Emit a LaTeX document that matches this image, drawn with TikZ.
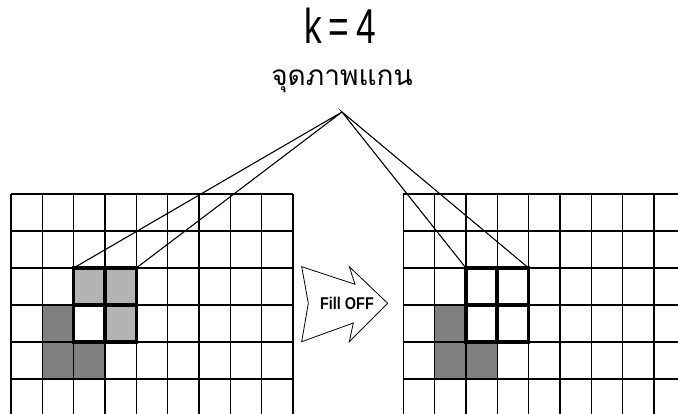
\documentclass[tikz,border=0pt]{standalone}
\usepackage{fontspec}
\usepackage{tikz}
\usetikzlibrary{positioning}
\newfontfamily\titlefont[FakeStretch=0.72, LetterSpace=14]{Liberation Sans}
\newfontfamily\thaifont[Script=Thai]{Loma}
\newfontfamily\tagfont[FakeStretch=0.85]{Liberation Sans}
\definecolor{pxInk}{HTML}{000000}
\definecolor{pxLight}{HTML}{B3B3B3}
\definecolor{pxDark}{HTML}{808080}
\tikzset{
  thin line/.style={draw=pxInk, line width=1.4pt},
  core/.style={draw=pxInk, line width=3.6pt, line cap=rect},
  ray/.style={draw=pxInk, line width=1.1pt},
  cellL/.style={fill=pxLight},
  cellD/.style={fill=pxDark},
}

\begin{document}
\begin{tikzpicture}[x=1pt, y=1pt]
  \clip (0,0) rectangle (678,414);
  \fill[white] (0,0) rectangle (678,414);
  % left grid
  \begin{scope}[shift={(11,220)}, x=31.33pt, y=37pt]
    \fill[cellL] (2,-3) rectangle (4,-2);
    \fill[cellL] (3,-4) rectangle (4,-3);
    \fill[cellD] (1,-5) rectangle (2,-3);
    \fill[cellD] (2,-5) rectangle (3,-4);
    \draw[thin line, step=1] (0,-6) grid (9,0);
    \draw[core] (2,-4) rectangle (4,-2) (3,-4) -- (3,-2) (2,-3) -- (4,-3);
    \coordinate (lA) at (2,-2);
    \coordinate (lB) at (4,-2);
  \end{scope}
  % right grid
  \begin{scope}[shift={(403.3,220)}, x=31.33pt, y=37pt]
    \fill[cellD] (1,-5) rectangle (2,-3);
    \fill[cellD] (2,-5) rectangle (3,-4);
    \draw[thin line, step=1] (0,-6) grid (9,0);
    \draw[core] (2,-4) rectangle (4,-2) (3,-4) -- (3,-2) (2,-3) -- (4,-3);
    \coordinate (rA) at (2,-2);
    \coordinate (rB) at (4,-2);
  \end{scope}
  \node (title) at (340,388.5) {\titlefont\fontsize{49}{55}\selectfont k=4};
  \node (core) at (342,333) {\thaifont\fontsize{28}{33}\selectfont จุดภาพแกน};
  \coordinate (apex) at (342,302);
  \draw[ray] (lA) -- (apex) -- (lB);
  \draw[ray] (rA) -- (apex) -- (rB);
  \draw[line width=0.8pt, fill=white] (301.7,147.3) -- (355,129.7) -- (349.3,147.3) -- (387.7,110.7)
    -- (349.3,72.3) -- (353.3,91) -- (301.7,72.3) -- (308.3,110.7) -- cycle;
  \node (fill) at (347,111) {\tagfont\bfseries\fontsize{17}{20}\selectfont Fill OFF};
\end{tikzpicture}
\end{document}
